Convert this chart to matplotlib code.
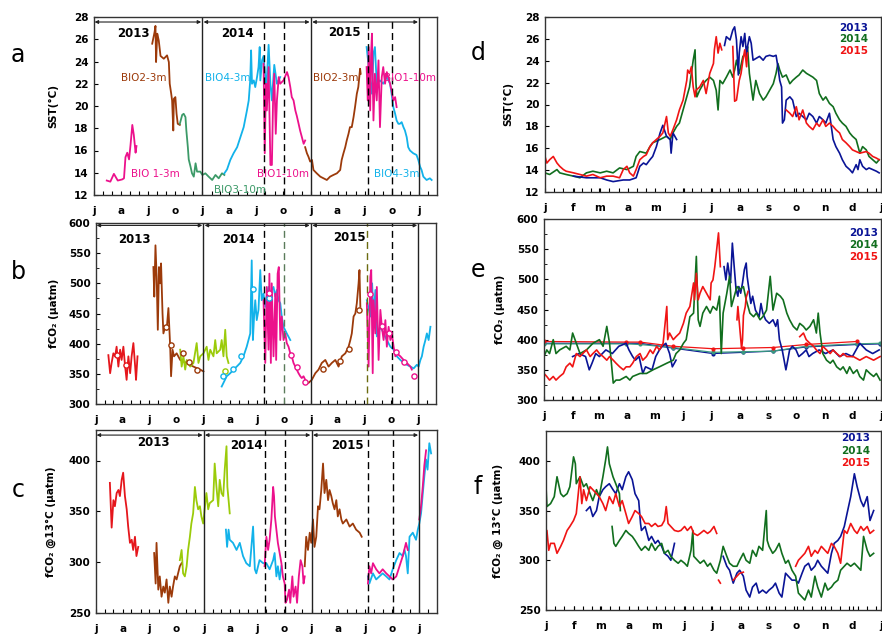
import numpy as np
import matplotlib
matplotlib.use('Agg')
import matplotlib.pyplot as plt

# colours
PINK = '#ec118c'
BROWN = '#9c3a0a'
SEA = '#3c9a68'
CYAN = '#12b2ea'
RED = '#e5161c'
LIME = '#9bcb0a'
C13 = '#0a1496'
C14 = '#116e1e'
C15 = '#f01414'

# ---------------- left column: days since 1 Jan 2013 ----------------
# a) SST
a_bio1_13_d = [43, 55, 67, 80, 95, 101, 106, 112, 118, 123, 129, 134, 140, 143]
a_bio1_13_v = [13.3, 13.2, 13.9, 13.3, 13.4, 13.5, 15.4, 15.8, 15.2, 16.5, 18.3, 17.4, 15.8, 16.4]
a_bio2_13_d = [196, 204, 207, 209, 213, 218, 224, 235, 246, 252, 255, 260, 263, 267, 269, 274, 278, 282, 289]
a_bio2_13_v = [25.6, 26.65, 27.2, 23.95, 26.5, 25.9, 24.5, 24.25, 24.55, 23.95, 22.0, 21.1, 20.5, 17.8, 20.65, 20.8, 19.3, 18.4, 18.3]
a_bio3_d = [289, 297, 302, 308, 311, 316, 319, 325, 330, 336, 342, 347, 358, 365, 375, 386, 398, 409, 420, 431, 439]
a_bio3_v = [18.4, 19.2, 19.3, 19.0, 17.8, 16.3, 15.2, 14.55, 13.95, 13.65, 14.85, 14.1, 14.1, 13.8, 13.95, 13.65, 13.35, 13.8, 13.5, 13.95, 13.8]
a_bio4_14_d = [439, 448, 459, 470, 482, 493, 504, 515, 521, 526, 529, 532, 538, 543, 549, 554, 558, 560, 566, 571, 580, 588, 594, 599, 607, 616, 627]
a_bio4_14_v = [13.95, 14.3, 15.15, 15.75, 16.3, 17.2, 18.1, 19.6, 20.5, 22.3, 25.0, 22.0, 22.3, 21.7, 22.6, 23.5, 25.3, 22.3, 24.1, 24.5, 21.5, 25.5, 22.0, 20.5, 23.7, 22.0, 22.6]
a_bio1_14_d = [571, 575, 579, 582, 588, 594, 599, 603, 607, 612, 616, 622, 627, 638, 650, 655, 661, 666, 672, 678, 683, 689, 694, 700, 706, 711]
a_bio1_14_v = [23.8, 15.75, 22.0, 19.6, 23.5, 14.7, 14.7, 20.5, 22.9, 17.5, 20.5, 22.6, 22.0, 22.3, 23.05, 22.6, 21.7, 20.8, 20.5, 19.6, 19.1, 18.4, 17.8, 17.2, 16.6, 16.9]
a_bio2_15_d = [711, 717, 722, 728, 734, 739, 750, 762, 773, 784, 795, 806, 818, 829, 834, 840, 846, 851, 857, 862, 868, 874, 879, 885, 890, 896, 898]
a_bio2_15_v = [16.3, 15.75, 15.45, 15.0, 15.15, 14.25, 13.95, 13.65, 13.5, 13.35, 13.65, 13.8, 13.95, 14.25, 15.15, 15.75, 16.3, 16.9, 17.5, 18.1, 18.1, 19.0, 19.9, 21.1, 21.7, 23.35, 22.9]
a_bio1_15_d = [918, 922, 925, 930, 933, 936, 941, 946, 952, 958, 963, 969, 974, 980, 986, 991, 997, 1002, 1008, 1014, 1019]
a_bio1_15_v = [23.5, 20.5, 25.3, 19.6, 24.7, 26.5, 18.7, 22.9, 20.5, 24.1, 18.1, 22.6, 23.5, 22.0, 23.05, 22.6, 22.0, 21.4, 20.5, 20.8, 19.9]
a_bio4_15_d = [918, 930, 936, 941, 946, 952, 963, 974, 986, 997, 1002, 1008, 1014, 1019, 1025, 1030, 1036, 1042, 1047, 1053, 1058, 1064, 1075, 1086, 1092, 1098, 1103, 1109, 1120, 1131, 1137]
a_bio4_15_v = [25.3, 22.3, 21.1, 24.7, 25.3, 22.0, 22.3, 22.0, 22.6, 22.0, 21.1, 19.9, 19.3, 18.7, 18.4, 18.4, 18.55, 18.1, 17.8, 17.2, 16.3, 16.0, 15.75, 15.6, 15.15, 14.55, 14.25, 13.65, 13.35, 13.5, 13.35]

# b) fCO2
b_red_13_d = [42, 48, 53, 59, 65, 70, 76, 82, 87, 93, 99, 104, 110, 116, 121, 127, 133, 136, 141]
b_red_13_v = [381, 351, 368, 384, 379, 395, 362, 390, 373, 395, 362, 340, 379, 351, 379, 401, 362, 340, 379]
b_brown_13_d = [195, 198, 202, 206, 210, 214, 218, 221, 226, 229, 235, 240, 246, 252, 255, 260, 265, 274, 286, 308, 331, 354, 365]
b_brown_13_v = [527, 478, 563, 511, 423, 527, 500, 533, 450, 417, 428, 423, 459, 395, 346, 390, 379, 384, 373, 368, 362, 357, 354]
b_lime_d = [286, 291, 297, 303, 308, 320, 331, 342, 348, 354, 365, 376, 382, 388, 399, 405, 410, 422, 427, 433, 439, 444, 450]
b_lime_v = [390, 362, 379, 357, 373, 362, 368, 401, 368, 379, 384, 395, 373, 390, 379, 406, 384, 390, 406, 379, 423, 379, 368]
b_cyan_14_d = [427, 433, 444, 456, 467, 478, 490, 501, 512, 518, 524, 529, 533, 537, 541, 546, 552, 558, 563, 569, 575, 580, 586, 592, 597, 603, 609, 614, 620, 626, 631, 637, 648, 660]
b_cyan_14_v = [329, 335, 346, 351, 357, 362, 368, 379, 395, 406, 417, 538, 406, 445, 472, 439, 456, 522, 472, 483, 461, 478, 494, 472, 489, 494, 478, 489, 472, 467, 445, 428, 417, 406]
b_pink_14_d = [569, 575, 580, 586, 589, 594, 597, 603, 609, 612, 617, 621, 626, 631, 637, 643, 648, 654, 660, 665, 671, 677, 682, 688, 694, 699, 705, 711]
b_pink_14_v = [472, 368, 494, 390, 516, 368, 500, 379, 483, 373, 516, 527, 406, 445, 406, 417, 401, 395, 384, 379, 368, 362, 357, 351, 346, 343, 346, 340]
b_brown_15_d = [711, 722, 733, 745, 756, 767, 779, 790, 801, 813, 824, 835, 847, 858, 864, 869, 875, 881, 886, 892, 895, 898]
b_brown_15_v = [337, 335, 340, 351, 357, 368, 373, 362, 368, 373, 362, 379, 384, 395, 406, 417, 445, 450, 467, 500, 522, 461]
b_pink_15_d = [920, 926, 932, 935, 940, 943, 949, 954, 960, 966, 971, 977, 983, 988, 994, 1000, 1005, 1011, 1017, 1022, 1034, 1045, 1056, 1068, 1073]
b_pink_15_v = [467, 362, 511, 522, 351, 472, 417, 494, 373, 456, 428, 406, 439, 395, 428, 406, 417, 395, 379, 384, 379, 373, 368, 362, 357]
b_cyan_15_d = [920, 932, 938, 943, 949, 954, 966, 977, 988, 1000, 1011, 1022, 1034, 1045, 1056, 1068, 1079, 1090, 1096, 1102, 1107, 1113, 1119, 1124, 1130, 1136]
b_cyan_15_v = [472, 445, 500, 445, 489, 412, 428, 417, 406, 395, 390, 379, 373, 368, 365, 362, 359, 365, 362, 373, 379, 395, 406, 417, 406, 428]
# discrete samples (open circles)
smp_red_d, smp_red_v = [70, 102], [382, 365]
smp_brown_d = [237, 254, 295, 317, 342, 771, 830, 858, 894]
smp_brown_v = [427, 398, 384, 370, 357, 358, 372, 391, 456]
smp_lime_d, smp_lime_v = [439], [354]
smp_cyan_d = [433, 467, 492, 532, 589]
smp_cyan_v = [346, 358, 379, 491, 476]
smp_pink_d = [589, 663, 682, 711, 932, 971, 994, 1020, 1047, 1079]
smp_pink_v = [484, 381, 362, 337, 482, 430, 417, 386, 369, 347]

# c) fCO2 @13C
c_red_13_d = [47, 53, 59, 64, 70, 76, 81, 87, 92, 98, 104, 109, 115, 121, 126, 132, 137, 143]
c_red_13_v = [378, 334, 361, 355, 368, 371, 365, 381, 388, 365, 352, 335, 319, 322, 312, 325, 306, 315]
c_brown_13_d = [197, 202, 205, 211, 216, 222, 228, 233, 239, 245, 250, 256, 261, 267, 273, 278, 284, 290]
c_brown_13_v = [309, 279, 319, 273, 286, 266, 276, 270, 283, 260, 276, 266, 276, 286, 283, 289, 296, 299]
c_lime_d = [284, 290, 295, 301, 307, 312, 318, 323, 329, 335, 340, 346, 352, 357, 363, 369, 374, 380, 385, 397, 402, 408, 414, 419, 425, 431, 436, 442, 445, 450, 453]
c_lime_v = [302, 312, 289, 286, 296, 312, 325, 338, 348, 374, 361, 352, 355, 345, 338, 355, 368, 352, 358, 361, 397, 374, 355, 381, 368, 365, 391, 414, 374, 358, 348]
c_cyan_14_d = [440, 444, 449, 453, 464, 476, 487, 498, 509, 521, 532, 538, 543, 554, 566, 577, 588, 600, 605, 611, 616, 622, 628]
c_cyan_14_v = [332, 315, 332, 322, 319, 312, 319, 306, 299, 296, 335, 293, 289, 302, 299, 299, 293, 302, 309, 286, 296, 283, 296]
c_pink_14_d = [571, 577, 583, 588, 594, 600, 603, 606, 611, 616, 622, 628, 633, 639, 642, 647, 654, 658, 665, 669, 676, 681, 687, 693, 699, 703, 707]
c_pink_14_v = [296, 325, 312, 322, 342, 374, 365, 345, 332, 319, 309, 299, 286, 279, 260, 263, 273, 260, 286, 266, 276, 260, 286, 302, 296, 279, 286]
c_brown_15_d = [707, 712, 718, 724, 729, 735, 740, 746, 752, 757, 763, 769, 774, 780, 786, 791, 797, 802, 808, 814, 819, 825, 831, 836, 848, 859, 870, 881, 893, 900]
c_brown_15_v = [296, 325, 312, 329, 319, 342, 315, 325, 355, 352, 371, 397, 368, 381, 361, 371, 365, 358, 352, 361, 345, 352, 342, 338, 342, 335, 338, 332, 329, 325]
c_pink_15_d = [921, 926, 932, 938, 949, 960, 971, 983, 994, 1005, 1017, 1028, 1039, 1050, 1056]
c_pink_15_v = [279, 296, 289, 299, 293, 289, 293, 289, 286, 283, 286, 296, 306, 319, 312]
c_pink_16_d = [1095, 1101, 1107, 1112, 1118]
c_pink_16_v = [342, 355, 375, 395, 410]
c_cyan_15_d = [921, 926, 938, 949, 960, 971, 983, 994, 1005, 1017, 1028, 1039, 1045, 1050, 1056, 1062, 1073, 1084, 1090, 1095, 1101, 1107, 1112, 1118, 1123, 1129, 1135]
c_cyan_15_v = [286, 279, 289, 283, 286, 289, 286, 283, 293, 302, 309, 306, 312, 306, 289, 325, 329, 322, 332, 338, 348, 368, 384, 401, 391, 417, 407]

# ---------------- right column: day of year ----------------
# d) SST
d13a_d = [31, 45, 60, 67, 74, 85, 92, 99, 103, 107, 110, 114, 117, 121, 125, 128, 132, 136, 137, 139, 143]
d13a_v = [13.45, 13.3, 13.3, 13.1, 12.95, 13.1, 13.1, 13.3, 14.35, 14.65, 14.5, 14.95, 15.25, 16.15, 17.4, 18.1, 17.1, 16.8, 15.55, 17.4, 16.8]
d13b_d = [195, 197, 201, 204, 206, 208, 210, 211, 213, 215, 217, 219, 220, 222, 224, 226, 229, 233, 237, 240, 244, 248, 251, 253, 255, 257, 258, 260, 262, 266, 269, 273, 276, 280, 284, 287, 291, 295, 298, 302, 305, 309, 313, 316, 320, 323, 327, 331, 334, 338, 340, 342, 345, 349, 352, 356, 360, 363]
d13b_v = [25.4, 26.2, 25.9, 26.8, 27.1, 25.9, 22.7, 24.7, 26.2, 25.3, 26.5, 24.4, 25.3, 26.2, 25.6, 24.05, 24.2, 24.4, 24.05, 24.4, 24.5, 24.4, 24.5, 23.45, 22.2, 21.6, 18.3, 18.6, 20.4, 20.7, 20.4, 18.9, 19.2, 18.9, 18.6, 19.2, 18.9, 18.3, 18.9, 18.6, 18.3, 19.2, 16.8, 16.15, 15.55, 14.95, 14.35, 14.05, 13.75, 14.5, 14.05, 14.95, 14.35, 14.05, 14.2, 14.05, 13.9, 13.75]
d14_d = [0, 5, 13, 16, 23, 31, 38, 45, 52, 60, 67, 74, 81, 89, 96, 99, 103, 110, 114, 117, 125, 132, 136, 139, 143, 146, 150, 154, 157, 159, 161, 163, 164, 165, 168, 172, 175, 179, 183, 186, 188, 190, 193, 197, 201, 204, 206, 208, 211, 215, 219, 220, 222, 224, 226, 229, 233, 237, 240, 244, 248, 251, 253, 255, 258, 262, 266, 269, 273, 276, 280, 284, 287, 291, 295, 298, 302, 305, 309, 313, 316, 320, 323, 327, 331, 334, 338, 342, 345, 349, 352, 356, 360, 363]
d14_v = [13.75, 13.6, 14.05, 13.75, 13.6, 13.45, 13.3, 13.75, 13.9, 13.75, 13.9, 13.75, 14.2, 14.05, 14.35, 15.25, 15.7, 15.55, 16.15, 16.5, 16.8, 17.1, 16.8, 17.4, 18.0, 18.3, 19.5, 20.7, 21.6, 22.85, 24.05, 25.0, 21.9, 20.7, 21.3, 21.9, 22.2, 22.5, 22.2, 21.3, 19.5, 22.2, 21.9, 22.5, 23.15, 22.5, 23.15, 24.05, 22.85, 24.4, 24.7, 25.3, 22.85, 21.6, 20.4, 22.2, 21.0, 20.4, 20.7, 21.3, 21.9, 22.85, 23.75, 23.15, 22.5, 22.7, 21.9, 22.2, 22.5, 22.7, 23.15, 22.85, 22.7, 22.5, 22.2, 21.0, 20.4, 20.7, 20.1, 19.8, 19.2, 18.6, 18.3, 18.0, 17.4, 17.1, 16.8, 15.55, 16.15, 15.85, 15.25, 14.95, 14.65, 14.95]
d15a_d = [0, 2, 5, 9, 13, 16, 20, 23, 31, 38, 45, 52, 60, 67, 74, 81, 85, 89, 92, 96, 99, 103, 107, 110, 114, 117, 121, 125, 128, 132, 134, 136, 139, 143, 146, 150, 154, 155, 157, 159, 161, 163, 164, 168, 172, 175, 179, 183, 184, 186, 188, 190, 192]
d15a_v = [15.25, 14.65, 14.95, 15.25, 14.65, 14.35, 14.05, 13.9, 13.75, 13.6, 13.45, 13.6, 13.3, 13.45, 13.45, 13.3, 14.05, 14.35, 13.75, 13.45, 14.05, 14.95, 15.25, 15.4, 16.15, 16.5, 16.8, 17.1, 17.4, 18.9, 17.4, 17.1, 17.7, 18.6, 19.5, 20.4, 22.2, 23.15, 22.85, 23.45, 21.6, 20.7, 21.3, 21.6, 22.2, 21.0, 22.85, 23.75, 25.0, 26.2, 24.7, 25.6, 25.0]
d15b_d = [204, 206, 208, 210, 211, 213, 215, 217, 219, 220]
d15b_v = [25.3, 20.3, 20.4, 21.6, 22.2, 22.85, 24.05, 25.0, 23.45, 24.7]
d15c_d = [262, 266, 269, 273, 276, 280, 284, 287, 291, 295, 298, 302, 305, 309, 313, 316, 320, 323, 327, 331, 334, 338, 342, 349, 352, 356, 360, 363]
d15c_v = [19.5, 19.2, 18.9, 19.8, 18.6, 19.5, 18.3, 18.0, 17.7, 18.3, 18.0, 18.6, 18.0, 18.3, 18.0, 17.7, 17.4, 16.8, 16.5, 16.15, 15.85, 15.7, 15.55, 15.7, 15.55, 15.25, 15.1, 14.95]

# e) fCO2
e13a_d = [31, 38, 45, 49, 52, 56, 60, 67, 74, 81, 89, 92, 96, 99, 103, 107, 110, 117, 121, 125, 128, 132, 136, 139, 143]
e13a_v = [372, 377, 372, 350, 361, 377, 372, 383, 377, 389, 394, 383, 372, 366, 372, 344, 355, 350, 372, 383, 389, 394, 377, 355, 366]
e13b_d = [195, 197, 199, 201, 202, 204, 206, 208, 210, 211, 213, 215, 217, 219, 220, 222, 224, 226, 229, 233, 235, 237, 240, 244, 248, 251, 253, 255, 258, 262, 264, 266, 269, 273, 276, 280, 284, 287, 291, 298, 305, 313, 320, 327, 334, 342, 349, 356, 363]
e13b_v = [521, 499, 527, 505, 494, 560, 521, 483, 472, 488, 477, 494, 516, 527, 505, 483, 460, 472, 449, 438, 460, 444, 433, 427, 433, 422, 433, 400, 383, 350, 366, 383, 389, 383, 372, 377, 383, 372, 377, 383, 377, 383, 372, 377, 372, 394, 383, 377, 383]
e14_d = [0, 3, 6, 10, 13, 17, 24, 28, 31, 35, 39, 46, 53, 60, 64, 68, 71, 75, 78, 82, 89, 93, 96, 104, 111, 118, 125, 133, 140, 143, 147, 151, 154, 158, 162, 165, 167, 169, 172, 176, 180, 183, 187, 190, 192, 194, 198, 201, 203, 205, 209, 212, 216, 219, 223, 227, 230, 234, 237, 241, 245, 248, 252, 256, 259, 263, 266, 270, 274, 277, 281, 284, 288, 292, 295, 297, 299, 302, 306, 310, 313, 317, 321, 324, 328, 331, 335, 339, 342, 346, 349, 353, 357, 360, 364]
e14_v = [372, 383, 377, 400, 377, 383, 389, 383, 411, 394, 377, 383, 394, 400, 389, 422, 394, 328, 333, 333, 339, 333, 339, 344, 344, 350, 355, 361, 366, 377, 383, 394, 400, 438, 444, 538, 433, 422, 444, 455, 444, 455, 449, 472, 377, 444, 477, 505, 455, 466, 488, 483, 488, 466, 444, 438, 444, 433, 438, 449, 505, 449, 477, 472, 466, 444, 433, 422, 416, 427, 422, 416, 422, 433, 411, 444, 411, 377, 366, 361, 366, 355, 350, 355, 344, 355, 344, 350, 339, 333, 350, 344, 339, 344, 333]
e15a_d = [0, 3, 6, 10, 13, 17, 21, 24, 28, 31, 35, 39, 42, 46, 50, 53, 57, 60, 64, 68, 71, 75, 78, 82, 86, 89, 93, 96, 100, 104, 107, 111, 115, 118, 122, 125, 129, 133, 134, 136, 140, 143, 147, 151, 154, 158, 162, 163, 165, 167, 169, 172, 176, 180, 181, 183, 185, 187, 189, 190, 191]
e15a_v = [344, 339, 333, 339, 333, 339, 344, 355, 361, 355, 377, 372, 377, 383, 372, 377, 383, 377, 372, 366, 372, 366, 361, 355, 350, 355, 355, 361, 372, 377, 366, 372, 383, 377, 389, 383, 394, 455, 400, 411, 400, 405, 411, 427, 444, 455, 494, 466, 510, 466, 477, 488, 477, 466, 494, 499, 521, 549, 577, 549, 521]
e15b_d = [209, 210, 212, 214, 215, 216, 218, 219, 221]
e15b_v = [433, 455, 420, 385, 400, 440, 455, 470, 480]
e15c_d = [277, 281, 284, 288, 292, 295, 299, 302, 306, 310, 313, 317, 321, 324, 328, 335, 342, 349, 357, 364]
e15c_v = [405, 411, 400, 394, 389, 383, 377, 389, 383, 377, 383, 377, 372, 377, 372, 372, 366, 372, 366, 372]
# smooth reference curves
e_ref_d = [0, 89, 104, 140, 183, 216, 248, 284, 339, 364]
e_ref13_v = [394, 394, 394, 386, 377, 379, 381, 388, 392, 393]
e_ref14_v = [393, 393, 392, 387, 379, 380, 381, 389, 393, 394]
e_ref15_d = [0, 89, 104, 140, 183, 216, 248, 284, 339]
e_ref15_v = [397, 396, 396, 389, 385, 386, 387, 392, 397]

# f) fCO2 @13C
f13a_d = [44, 48, 51, 55, 58, 62, 65, 69, 73, 76, 80, 83, 87, 90, 94, 97, 101, 103, 104, 108, 112, 115, 119, 122, 126, 129, 133, 136, 140]
f13a_v = [350, 354, 344, 350, 364, 371, 374, 377, 371, 367, 377, 371, 384, 389, 381, 367, 360, 337, 330, 334, 320, 324, 317, 320, 314, 307, 304, 300, 317]
f13b_d = [193, 197, 200, 204, 208, 211, 215, 218, 222, 225, 229, 232, 236, 240, 243, 247, 250, 254, 257, 261, 264, 268, 272, 275, 279, 282, 286, 289, 293, 296, 300, 304, 307, 311, 314, 318, 321, 325, 328, 332, 336, 339, 343, 346, 350, 353, 357]
f13b_v = [304, 294, 290, 277, 287, 290, 284, 270, 263, 273, 277, 267, 270, 267, 270, 273, 277, 267, 263, 287, 284, 280, 280, 277, 287, 294, 297, 290, 294, 300, 294, 290, 287, 307, 317, 320, 324, 334, 347, 364, 387, 374, 360, 354, 364, 340, 350]
f14a_d = [0, 1, 5, 9, 12, 16, 19, 23, 26, 30, 32, 33, 37, 41, 44, 48, 51, 55, 58, 62, 65, 67, 69, 73, 76, 80, 81]
f14a_v = [374, 354, 357, 364, 384, 367, 364, 367, 374, 404, 397, 377, 384, 374, 377, 367, 360, 371, 364, 384, 401, 414, 397, 384, 377, 367, 350]
f14b_d = [72, 74, 76, 80, 83, 87, 90, 94, 97, 101, 104, 108, 112, 115, 119, 122, 126, 129, 133, 136, 140, 144, 147, 151, 154, 158, 160, 161, 165, 168, 172, 176, 179, 183, 186, 190, 193, 197, 200, 204, 208, 211, 215, 218, 222, 225, 229, 232, 236, 240, 241, 243, 247, 250, 254, 257, 261, 264, 268, 272, 275, 279, 282, 286, 289, 293, 296, 300, 304, 307, 311, 314, 318, 321, 325, 328, 332, 336, 339, 343, 346, 350, 353, 357]
f14b_v = [334, 317, 314, 320, 324, 330, 327, 324, 320, 314, 310, 314, 310, 317, 310, 314, 317, 307, 310, 304, 300, 297, 300, 297, 294, 310, 330, 304, 300, 297, 300, 294, 297, 290, 287, 300, 314, 304, 297, 294, 294, 300, 307, 300, 297, 310, 304, 314, 310, 350, 320, 314, 307, 310, 317, 307, 297, 300, 290, 284, 267, 263, 260, 270, 263, 284, 273, 263, 277, 270, 273, 277, 280, 290, 294, 297, 294, 297, 294, 290, 324, 310, 304, 307]
f15a_d = [0, 1, 3, 5, 9, 12, 16, 19, 23, 26, 30, 33, 37, 39, 41, 44, 48, 51, 55, 58, 62, 65, 69, 73, 76, 80, 83, 87, 90, 94, 97, 101, 104, 108, 112, 115, 119, 122, 126, 129, 131, 133, 136, 140, 144, 147, 151, 154, 158, 161, 165, 168, 172, 176, 179, 183, 186]
f15a_v = [320, 330, 310, 317, 317, 307, 314, 320, 330, 334, 340, 347, 384, 357, 371, 360, 374, 371, 367, 364, 357, 350, 364, 357, 367, 354, 360, 347, 337, 344, 350, 347, 344, 337, 337, 334, 337, 334, 335, 340, 354, 337, 334, 330, 329, 330, 334, 330, 334, 327, 325, 327, 330, 327, 329, 334, 327]
f15b_d, f15b_v = [188, 190], [280, 277]
f15c_d = [204, 208, 211, 215]
f15c_v = [280, 284, 287, 288]
f15d_d = [272, 275, 279, 282, 286, 289, 293, 296, 300, 304, 307, 311, 314, 318, 321, 325, 328, 332, 336, 339, 343, 346, 350, 353, 357]
f15d_v = [294, 300, 304, 307, 314, 304, 310, 307, 314, 310, 307, 317, 314, 307, 297, 330, 327, 337, 330, 327, 334, 330, 334, 327, 330]

# ---------------- axes helpers ----------------
month0 = np.datetime64('2013-01-01')
month_starts = (np.arange('2013-01', '2016-03', dtype='datetime64[M]').astype('datetime64[D]') - month0).astype(int)
quarter_pos = month_starts[::3]
quarter_lab = ['j', 'a', 'j', 'o'] * 3 + ['j']
doy_pos = [0, 31, 59, 90, 120, 151, 181, 212, 243, 273, 304, 334, 365]
doy_lab = ['j', 'f', 'm', 'a', 'm', 'j', 'j', 'a', 's', 'o', 'n', 'd', 'j']

W, H = 882, 635


def px_axes(l, r, t, b):
    return fig.add_axes([l / W, 1 - b / H, (r - l) / W, (b - t) / H])


def style(ax, ylim, ystep, ylabel, labx, left=True):
    ax.set_ylim(*ylim)
    ax.set_yticks(np.arange(ylim[0], ylim[1] + 0.01, ystep))
    if left:
        ax.set_xlim(0, 1155)
        ax.set_xticks(quarter_pos)
        ax.set_xticklabels(quarter_lab)
        ax.set_xticks(month_starts, minor=True)
    else:
        ax.set_xlim(0, 365)
        ax.set_xticks(doy_pos)
        ax.set_xticklabels(doy_lab)
        ax.set_xticks(np.arange(0, 366, 365 / 36.5), minor=True)
    ax.tick_params(axis='x', which='both', direction='in', length=3, width=0.8, pad=8, labelsize=7.5)
    ax.tick_params(axis='y', which='major', direction='in', length=3, width=0.8, pad=4, labelsize=7.5)
    for lab in ax.get_xticklabels() + ax.get_yticklabels():
        lab.set_fontweight('bold')
    for s in ax.spines.values():
        s.set_linewidth(1.0)
        s.set_color('#333333')
    ax.set_ylabel(ylabel, fontsize=7.5, fontweight='bold')
    ax.yaxis.set_label_coords(labx, 0.5)


def year_marks(ax, yarrow, dashed, dcols, ytxt):
    for x in [365, 730, 1095]:
        ax.axvline(x, color='#222222', lw=1.0)
    for x, c in zip(dashed, dcols):
        ax.axvline(x, color=c, lw=1.0, ls=(0, (5, 3)))
    for (x0, x1) in [(2, 361), (369, 726), (735, 1091)]:
        ax.annotate('', xy=(x1, yarrow), xytext=(x0, yarrow),
                    arrowprops=dict(arrowstyle='<|-|>', color='#222222', lw=0.8,
                                    mutation_scale=5, shrinkA=0, shrinkB=0))
    for (x, y), t in zip(ytxt, ['2013', '2014', '2015']):
        ax.text(x, y, t, ha='center', va='center', fontsize=8.5, fontweight='bold')


def year_key(ax, x, ys):
    for y, t, c in zip(ys, ['2013', '2014', '2015'], [C13, C14, C15]):
        ax.text(x, y, t, color=c, transform=ax.transAxes, fontsize=7.5,
                fontweight='bold', va='center')


fig = plt.figure(figsize=(W / 100, H / 100), dpi=100)

# ---- a
ax = px_axes(94, 437, 17, 195)
lw = 1.3
ax.plot(a_bio1_13_d, a_bio1_13_v, color=PINK, lw=lw)
ax.plot(a_bio2_13_d, a_bio2_13_v, color=BROWN, lw=lw)
ax.plot(a_bio3_d, a_bio3_v, color=SEA, lw=lw)
ax.plot(a_bio4_14_d, a_bio4_14_v, color=CYAN, lw=lw)
ax.plot(a_bio1_14_d, a_bio1_14_v, color=PINK, lw=lw)
ax.plot(a_bio2_15_d, a_bio2_15_v, color=BROWN, lw=lw)
ax.plot(a_bio4_15_d, a_bio4_15_v, color=CYAN, lw=lw)
ax.plot(a_bio1_15_d, a_bio1_15_v, color=PINK, lw=lw)
style(ax, (12, 28), 2, 'SST(°C)', -0.105)
year_marks(ax, 27.55, [571, 640, 921, 1005], ['k'] * 4,
           [(134, 26.5), (484, 26.5), (842, 26.65)])
for (x, y, t, c) in [(168, 22.5, 'BIO2-3m', BROWN), (205, 13.9, 'BIO 1-3m', PINK),
                     (490, 12.45, 'BIO3-10m', SEA), (451, 22.5, 'BIO4-3m', CYAN),
                     (636, 13.9, 'BIO1-10m', PINK), (813, 22.5, 'BIO2-3m', BROWN),
                     (1065, 22.5, 'BIO1-10m', PINK), (1021, 13.9, 'BIO4-3m', CYAN)]:
    ax.text(x, y, t, color=c, fontsize=7.5, ha='center', va='center')

# ---- b
ax = px_axes(96, 436, 223, 404)
ax.plot(b_red_13_d, b_red_13_v, color=RED, lw=lw)
ax.plot(b_brown_13_d, b_brown_13_v, color=BROWN, lw=lw)
ax.plot(b_lime_d, b_lime_v, color=LIME, lw=lw)
ax.plot(b_cyan_14_d, b_cyan_14_v, color=CYAN, lw=lw)
ax.plot(b_pink_14_d, b_pink_14_v, color=PINK, lw=lw)
ax.plot(b_brown_15_d, b_brown_15_v, color=BROWN, lw=lw)
ax.plot(b_cyan_15_d, b_cyan_15_v, color=CYAN, lw=lw)
ax.plot(b_pink_15_d, b_pink_15_v, color=PINK, lw=lw)
for dd, vv, c in [(smp_red_d, smp_red_v, RED), (smp_brown_d, smp_brown_v, BROWN),
                  (smp_lime_d, smp_lime_v, LIME), (smp_cyan_d, smp_cyan_v, CYAN),
                  (smp_pink_d, smp_pink_v, PINK)]:
    ax.scatter(dd, vv, s=14, facecolors='white', edgecolors=c, linewidths=1.0, zorder=5)
style(ax, (300, 600), 50, 'fCO₂ (µatm)', -0.109)
ax.set_yticks(np.arange(300, 601, 25), minor=True)
ax.tick_params(axis='y', which='minor', direction='in', length=2)
year_marks(ax, 596, [571, 639, 920, 1005], ['k', '#5b7b5b', '#6b6b10', 'k'],
           [(130, 572), (485, 572), (861, 576)])

# ---- c
ax = px_axes(96, 437, 430, 613)
ax.plot(c_red_13_d, c_red_13_v, color=RED, lw=lw)
ax.plot(c_brown_13_d, c_brown_13_v, color=BROWN, lw=lw)
ax.plot(c_lime_d, c_lime_v, color=LIME, lw=lw)
ax.plot(c_cyan_14_d, c_cyan_14_v, color=CYAN, lw=lw)
ax.plot(c_pink_14_d, c_pink_14_v, color=PINK, lw=lw)
ax.plot(c_brown_15_d, c_brown_15_v, color=BROWN, lw=lw)
ax.plot(c_cyan_15_d, c_cyan_15_v, color=CYAN, lw=lw)
ax.plot(c_pink_15_d, c_pink_15_v, color=PINK, lw=lw)
ax.plot(c_pink_16_d, c_pink_16_v, color=PINK, lw=lw)
style(ax, (250, 430), 50, 'fCO₂ @13°C (µatm)', -0.118)
ax.set_yticks([250, 300, 350, 400])
year_marks(ax, 425, [574, 641, 921, 1006], ['k'] * 4,
           [(196, 418), (509, 415), (853, 415)])

# ---- d
lw2 = 1.2
ax = px_axes(545, 881, 17, 192)
ax.plot(d14_d, d14_v, color=C14, lw=lw2)
ax.plot(d13a_d, d13a_v, color=C13, lw=lw2)
ax.plot(d13b_d, d13b_v, color=C13, lw=lw2)
for dd, vv in [(d15a_d, d15a_v), (d15b_d, d15b_v), (d15c_d, d15c_v)]:
    ax.plot(dd, vv, color=C15, lw=lw2)
style(ax, (12, 28), 2, 'SST(°C)', -0.095, left=False)
year_key(ax, 0.875, [0.937, 0.874, 0.806])

# ---- e
ax = px_axes(544, 881, 219, 400)
ax.plot(e_ref_d, e_ref13_v, color=C13, lw=0.9, marker='o', ms=2)
ax.plot(e_ref_d, e_ref14_v, color='#3a9a80', lw=0.9, marker='o', ms=2)
ax.plot(e_ref15_d, e_ref15_v, color=C15, lw=0.9, marker='o', ms=2)
ax.plot(e13a_d, e13a_v, color=C13, lw=lw2)
ax.plot(e13b_d, e13b_v, color=C13, lw=lw2)
ax.plot(e14_d, e14_v, color=C14, lw=lw2)
for dd, vv in [(e15a_d, e15a_v), (e15b_d, e15b_v), (e15c_d, e15c_v)]:
    ax.plot(dd, vv, color=C15, lw=lw2)
style(ax, (300, 600), 50, 'fCO₂ (µatm)', -0.116, left=False)
ax.set_yticks(np.arange(300, 601, 25), minor=True)
ax.tick_params(axis='y', which='minor', direction='in', length=2)
year_key(ax, 0.905, [0.923, 0.855, 0.79])

# ---- f
ax = px_axes(546, 881, 431, 610)
ax.plot(f13a_d, f13a_v, color=C13, lw=lw2)
ax.plot(f13b_d, f13b_v, color=C13, lw=lw2)
ax.plot(f14a_d, f14a_v, color=C14, lw=lw2)
ax.plot(f14b_d, f14b_v, color=C14, lw=lw2)
for dd, vv in [(f15a_d, f15a_v), (f15b_d, f15b_v), (f15c_d, f15c_v), (f15d_d, f15d_v)]:
    ax.plot(dd, vv, color=C15, lw=lw2)
style(ax, (250, 430), 50, 'fCO₂ @ 13°C (µatm)', -0.128, left=False)
ax.set_yticks([250, 300, 350, 400])
year_key(ax, 0.881, [0.961, 0.888, 0.821])

# panel letters
for x, y, t in [(18, 55, 'a'), (18, 272, 'b'), (18, 490, 'c'),
                (478, 53, 'd'), (478, 270, 'e'), (478, 487, 'f')]:
    fig.text(x / W, 1 - y / H, t, fontsize=17, ha='center', va='center')

fig.savefig('out.png', dpi=100)
